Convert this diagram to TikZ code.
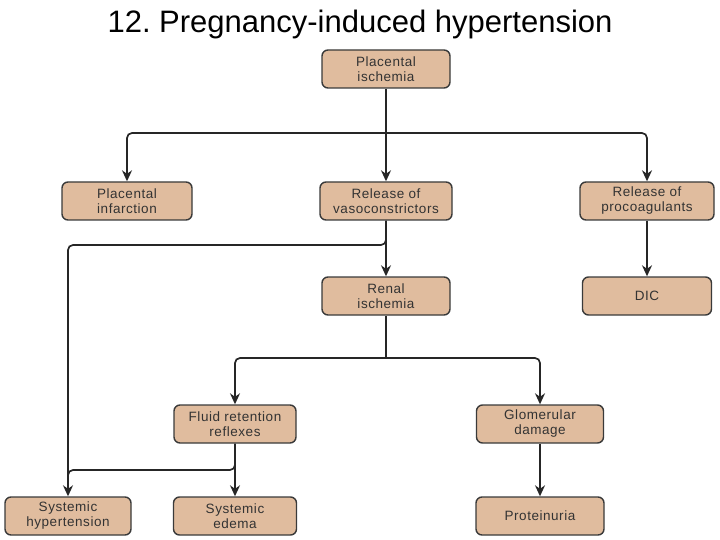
\documentclass[tikz,border=0pt]{standalone}
\usepackage{fontspec}
\setmainfont{Liberation Sans}
\usetikzlibrary{arrows.meta}
\definecolor{boxfill}{HTML}{E0BC9E}
\definecolor{boxline}{HTML}{3A3A3A}
\tikzset{
  box/.style={draw=boxline, line width=1.4pt, fill=boxfill, rounded corners=6pt,
    minimum width=#1, minimum height=38pt, inner sep=1pt, align=center,
    font=\fontsize{13.5}{15}\selectfont\addfontfeatures{LetterSpace=4}, text=black!80},
  box/.default=128pt,
  conn/.style={draw=black!85, line width=1.7pt, rounded corners=5pt},
  arr/.style={conn, -{Stealth[length=11pt,width=10pt]}}
}
\begin{document}
\frenchspacing
\begin{tikzpicture}[x=1pt,y=-1pt]
\useasboundingbox (0,0) rectangle (720,540);
\node (title) at (360,24) {\fontsize{31}{33}\selectfont 12. Pregnancy-induced hypertension};
\node[box] (pi) at (386,69) {Placental\\ischemia};
\node[box=130pt] (inf) at (127,201) {Placental\\infarction};
\node[box=132pt] (vaso) at (386,201) {Release of\\vasoconstrictors};
\node[box=134pt] (proc) at (647,201) {Release of\\procoagulants};
\node[box] (ren) at (386,296) {Renal\\ischemia};
\node[box=129pt] (dic) at (647,296) {DIC};
\node[box=122pt] (fluid) at (235,424) {Fluid retention\\reflexes};
\node[box=127pt] (glom) at (540,424) {Glomerular\\damage};
\node[box=126pt] (hyp) at (68,516) {Systemic\\hypertension};
\node[box=123pt] (ede) at (235,516) {Systemic\\edema};
\node[box=128pt] (prot) at (540,516) {Proteinuria};
\coordinate (b1) at (386,133);
\draw[conn] (pi.south) -- (b1);
\draw[arr] (b1) -| (inf.north);
\draw[arr] (b1) -| (proc.north);
\draw[arr] (b1) -- (vaso.north);
\draw[arr] (vaso.south) -- (ren.north);
\draw[arr] (vaso.south) -- (386,245) -| (hyp.north);
\draw[arr] (proc.south) -- (dic.north);
\coordinate (b2) at (386,358);
\draw[conn] (ren.south) -- (b2);
\draw[arr] (b2) -| (fluid.north);
\draw[arr] (b2) -| (glom.north);
\draw[arr] (fluid.south) -- (ede.north);
\draw[conn] (fluid.south) -- (235,470) -| (68,490);
\draw[arr] (glom.south) -- (prot.north);
\end{tikzpicture}
\end{document}
